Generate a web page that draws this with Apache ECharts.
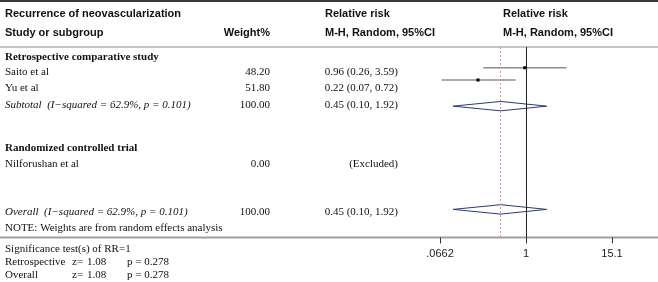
<!DOCTYPE html>
<html>
<head>
<meta charset="utf-8">
<script src="https://cdn.jsdelivr.net/npm/echarts@6/dist/echarts.min.js"></script>
<style>
  html, body { margin: 0; padding: 0; background: #fff; }
  #chart { width: 658px; height: 282px; }
</style>
</head>
<body>
<div id="chart"></div>
<script>
// Filas de la tabla (texto)
const headerLeft = ['Recurrence of neovascularization', 'Study or subgroup'];
const headerMid = ['Relative risk', 'M-H, Random, 95%CI'];
const headerRight = ['Relative risk', 'M-H, Random, 95%CI'];

const groupLabels = ['Retrospective comparative study', 'Randomized controlled trial'];
const studyNames = ['Saito et al', 'Yu et al', 'Nilforushan et al'];
const studyWeights = ['48.20', '51.80', '0.00'];
const studyRRText = ['0.96 (0.26, 3.59)', '0.22 (0.07, 0.72)', '(Excluded)'];

const pooledNames = ['Subtotal  (I\u2212squared = 62.9%, p = 0.101)', 'Overall  (I\u2212squared = 62.9%, p = 0.101)'];
const pooledWeights = ['100.00', '100.00'];
const pooledRRText = ['0.45 (0.10, 1.92)', '0.45 (0.10, 1.92)'];
const noteText = 'NOTE: Weights are from random effects analysis';

const sigTitle = 'Significance test(s) of RR=1';
const sigNames = ['Retrospective', 'Overall'];
const sigZ = ['1.08', '1.08'];
const sigP = ['p = 0.278', 'p = 0.278'];

// Valores del forest plot
const studyRR = [0.96, 0.22];
const studyLo = [0.26, 0.07];
const studyHi = [3.59, 0.72];
const studyRow = [1.27, 2.02];

const pooledRR = [0.45, 0.45];
const pooledLo = [0.10, 0.10];
const pooledHi = [1.92, 1.92];
const pooledRow = [3.62, 9.94];

const tickValues = [0.0662, 1, 15.1];
const tickLabels = ['.0662', '1', '15.1'];

const SANS = '"Liberation Sans", Arial, sans-serif';
const SERIF = '"Liberation Serif", "Times New Roman", serif';

const chart = echarts.init(document.getElementById('chart'));

function txt(text, x, y, opts) {
  opts = opts || {};
  return {
    type: 'text',
    silent: true,
    style: {
      text: text,
      x: x,
      y: y,
      fill: opts.fill || '#111',
      font: opts.font || ('11px ' + SERIF),
      textAlign: opts.align || 'left',
      textVerticalAlign: 'middle',
      align: opts.align || 'left',
      verticalAlign: 'middle'
    }
  };
}

const boldSans = 'bold 11px ' + SANS;
const boldSerif = 'bold 11px ' + SERIF;
const italicSerif = 'italic 11px ' + SERIF;

const graphics = [
  { type: 'line', silent: true, z: -1, shape: { x1: 0, y1: 1, x2: 658, y2: 1 }, style: { stroke: '#3a3a3a', lineWidth: 2 } },
  { type: 'line', silent: true, z: -1, shape: { x1: 0, y1: 47, x2: 658, y2: 47 }, style: { stroke: '#8a8a8a', lineWidth: 1 } },
  { type: 'line', silent: true, z: -1, shape: { x1: 0, y1: 237.5, x2: 658, y2: 237.5 }, style: { stroke: '#a0a0a0', lineWidth: 2 } },

  txt(headerLeft[0], 5, 14, { font: boldSans }),
  txt(headerLeft[1], 5, 33, { font: boldSans }),
  txt('Weight%', 270, 33, { font: boldSans, align: 'right' }),
  txt(headerMid[0], 325, 14, { font: boldSans }),
  txt(headerMid[1], 325, 33, { font: boldSans }),
  txt(headerRight[0], 503, 14, { font: boldSans }),
  txt(headerRight[1], 503, 33, { font: boldSans }),

  txt(groupLabels[0], 5, 57, { font: boldSerif }),
  txt(studyNames[0], 5, 72),
  txt(studyWeights[0], 270, 72, { align: 'right' }),
  txt(studyRRText[0], 398, 72, { align: 'right' }),
  txt(studyNames[1], 5, 88),
  txt(studyWeights[1], 270, 88, { align: 'right' }),
  txt(studyRRText[1], 398, 88, { align: 'right' }),
  txt(pooledNames[0], 5, 105, { font: italicSerif }),
  txt(pooledWeights[0], 270, 105, { align: 'right' }),
  txt(pooledRRText[0], 398, 105, { align: 'right' }),

  txt(groupLabels[1], 5, 148, { font: boldSerif }),
  txt(studyNames[2], 5, 164),
  txt(studyWeights[2], 270, 164, { align: 'right' }),
  txt(studyRRText[2], 398, 164, { align: 'right' }),

  txt(pooledNames[1], 5, 212, { font: italicSerif }),
  txt(pooledWeights[1], 270, 212, { align: 'right' }),
  txt(pooledRRText[1], 398, 212, { align: 'right' }),
  txt(noteText, 5, 228),

  txt(sigTitle, 5, 249),
  txt(sigNames[0], 5, 262),
  txt('z=', 72, 262),
  txt(sigZ[0], 87, 262),
  txt(sigP[0], 127, 262),
  txt(sigNames[1], 5, 275),
  txt('z=', 72, 275),
  txt(sigZ[1], 87, 275),
  txt(sigP[1], 127, 275)
];

const L = Math.log(tickValues[2]);
// eje y en unidades de fila; la línea del eje x está en Y_AXIS
const Y_AXIS = 11.66;
const TICK_LEN = 6;

const studyData = studyRR.map((v, i) => [Math.log(v), Math.log(studyLo[i]), Math.log(studyHi[i]), studyRow[i]]);
const pooledData = pooledRR.map((v, i) => [Math.log(v), Math.log(pooledLo[i]), Math.log(pooledHi[i]), pooledRow[i]]);

const option = {
  animation: false,
  backgroundColor: '#fff',
  grid: { left: 440, right: 46, top: 47, bottom: 44.5 },
  xAxis: {
    type: 'value',
    position: 'bottom',
    min: -L,
    max: L,
    interval: L,
    axisLine: { show: false, onZero: false },
    splitLine: { show: false },
    axisTick: { show: false },
    axisLabel: {
      margin: 11,
      color: '#222',
      fontFamily: SANS,
      fontSize: 11,
      formatter: (val, idx) => tickLabels[idx]
    }
  },
  yAxis: {
    type: 'value',
    min: 0,
    max: Y_AXIS,
    inverse: true,
    show: false
  },
  graphic: graphics,
  series: [
    {
      type: 'custom',
      name: 'lines',
      data: [[0, 0]],
      renderItem: () => ({ type: 'group', children: [] }),
      markLine: {
        silent: true,
        symbol: 'none',
        label: { show: false },
        data: [
          { xAxis: 0, lineStyle: { color: '#222', width: 1, type: 'solid' } },
          { xAxis: Math.log(pooledRR[1]), lineStyle: { color: '#e58a96', width: 1, type: [2, 2] } }
        ]
      }
    },
    {
      type: 'custom',
      name: 'studies',
      data: studyData,
      renderItem: function (params, api) {
        const y = api.value(3);
        const p = api.coord([api.value(0), y]);
        const a = api.coord([api.value(1), y]);
        const b = api.coord([api.value(2), y]);
        return {
          type: 'group',
          children: [
            { type: 'line', shape: { x1: a[0], y1: a[1], x2: b[0], y2: b[1] }, style: { stroke: '#8c8c8c', lineWidth: 1.5 } },
            { type: 'rect', shape: { x: p[0] - 1.5, y: p[1] - 1.5, width: 3, height: 3 }, style: { fill: '#000' } }
          ]
        };
      }
    },
    {
      type: 'custom',
      name: 'pooled',
      data: pooledData,
      renderItem: function (params, api) {
        const y = api.value(3);
        const p = api.coord([api.value(0), y]);
        const a = api.coord([api.value(1), y]);
        const b = api.coord([api.value(2), y]);
        const h = 4.7;
        return {
          type: 'polygon',
          shape: { points: [[a[0], a[1]], [p[0], p[1] - h], [b[0], b[1]], [p[0], p[1] + h]] },
          style: { fill: 'none', stroke: '#2c3a78', lineWidth: 1 }
        };
      }
    }
  ]
};

chart.setOption(option);

// Ticks del eje x: posición tomada de la escala del propio gráfico
const tickGraphics = tickValues.map(v => {
  const p = chart.convertToPixel({ gridIndex: 0 }, [Math.log(v), Y_AXIS]);
  const x = Math.round(p[0]) + 0.5;
  return {
    type: 'line',
    silent: true,
    z: 100,
    shape: { x1: x, y1: p[1], x2: x, y2: p[1] + TICK_LEN },
    style: { stroke: '#333', lineWidth: 1 }
  };
});
chart.setOption({ graphic: graphics.concat(tickGraphics) });
</script>
</body>
</html>
